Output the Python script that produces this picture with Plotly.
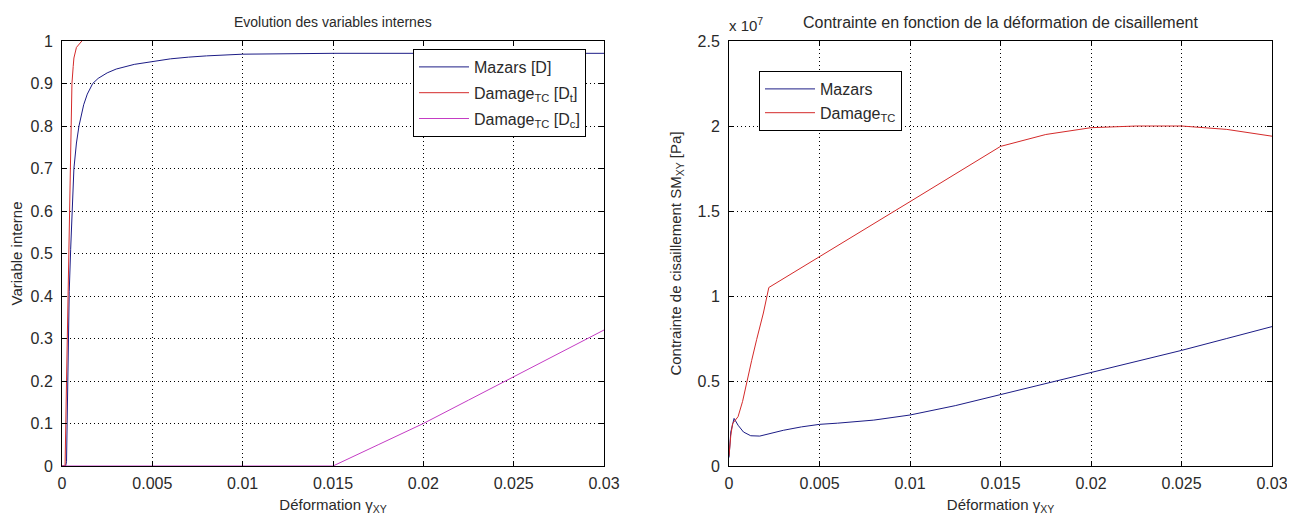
import plotly.graph_objects as go

# ---- left panel: internal variables ----
mazars_d_x = [0, 0.0002, 0.00025, 0.0003, 0.00033, 0.0004, 0.00048, 0.00055, 0.00066, 0.0008,
              0.00094, 0.0012, 0.0014, 0.0017, 0.002, 0.0025, 0.003, 0.004, 0.005, 0.006,
              0.007, 0.008, 0.01, 0.015, 0.02, 0.025, 0.03]
mazars_d_y = [0, 0, 0.01, 0.14, 0.28, 0.41, 0.51, 0.6, 0.7, 0.76,
              0.8, 0.85, 0.875, 0.9, 0.912, 0.925, 0.934, 0.945, 0.952, 0.958,
              0.962, 0.965, 0.969, 0.971, 0.971, 0.971, 0.971]

dt_x = [0, 0.00017, 0.00025, 0.00033, 0.0004, 0.00045, 0.0005, 0.00055, 0.00062, 0.00066,
        0.0008, 0.0011]
dt_y = [0, 0, 0.2, 0.4, 0.5, 0.64, 0.8, 0.9, 0.94, 0.96, 0.985, 1.0]

dc_x = [0, 0.015, 0.0175, 0.02, 0.0225, 0.025, 0.0275, 0.03]
dc_y = [0, 0, 0.05, 0.1, 0.155, 0.21, 0.265, 0.32]

# ---- right panel: shear stress [Pa] ----
mazars_s_x = [0, 0.0001, 0.00028, 0.0005, 0.0008, 0.0012, 0.0017, 0.0022, 0.003, 0.004,
              0.005, 0.006, 0.008, 0.01, 0.0125, 0.015, 0.0175, 0.02, 0.0225, 0.025,
              0.0275, 0.03]
mazars_s_y = [0.05e7, 0.2e7, 0.28e7, 0.24e7, 0.2e7, 0.178e7, 0.176e7, 0.19e7, 0.21e7, 0.23e7,
              0.245e7, 0.252e7, 0.27e7, 0.3e7, 0.355e7, 0.42e7, 0.485e7, 0.55e7, 0.615e7, 0.68e7,
              0.75e7, 0.82e7]

tc_s_x = [0, 0.0001, 0.0002, 0.0005, 0.00075, 0.00098, 0.00125, 0.00153, 0.0019, 0.0022,
          0.005, 0.01, 0.015, 0.0175, 0.02, 0.0225, 0.025, 0.0275, 0.03]
tc_s_y = [0.06e7, 0.18e7, 0.25e7, 0.29e7, 0.38e7, 0.5e7, 0.62e7, 0.745e7, 0.9e7, 1.05e7,
          1.23e7, 1.555e7, 1.88e7, 1.95e7, 1.99e7, 2.0e7, 2.0e7, 1.98e7, 1.94e7]

x_ticks = [0, 0.005, 0.01, 0.015, 0.02, 0.025, 0.03]
x_labels = ["0", "0.005", "0.01", "0.015", "0.02", "0.025", "0.03"]
s_ticks = [0, 0.5e7, 1e7, 1.5e7, 2e7, 2.5e7]
s_labels = ["0", "0.5", "1", "1.5", "2", "2.5"]

BLUE = "#1c1c86"
RED = "#d42a2a"
MAG = "#c43cc4"
FONT = "Liberation Sans, Arial, sans-serif"
TXT = "#2a2a2a"

# the page body adds an 8px margin, so the figure is drawn 8px in from the corner
OFF = 8
W, H = 1295 - OFF, 519 - OFF


def px_x(p):
    return (p - OFF) / W


def px_y(p):
    return 1 - (p - OFF) / H


fig = go.Figure()

fig.add_trace(go.Scatter(x=mazars_d_x, y=mazars_d_y, mode="lines", name="Mazars [D]",
                         line=dict(color=BLUE, width=1), xaxis="x", yaxis="y",
                         legend="legend", legendgroup="a"))
fig.add_trace(go.Scatter(x=dt_x, y=dt_y, mode="lines", name="Damage<sub>TC</sub> [D<sub>t</sub>]",
                         line=dict(color=RED, width=1), xaxis="x", yaxis="y",
                         legend="legend", legendgroup="b"))
fig.add_trace(go.Scatter(x=dc_x, y=dc_y, mode="lines", name="Damage<sub>TC</sub> [D<sub>c</sub>]",
                         line=dict(color=MAG, width=1), xaxis="x", yaxis="y",
                         legend="legend", legendgroup="c"))

fig.add_trace(go.Scatter(x=mazars_s_x, y=mazars_s_y, mode="lines", name="Mazars",
                         line=dict(color=BLUE, width=1), xaxis="x2", yaxis="y2",
                         legend="legend2", legendgroup="d"))
fig.add_trace(go.Scatter(x=tc_s_x, y=tc_s_y, mode="lines", name="Damage<sub>TC</sub>",
                         line=dict(color=RED, width=1), xaxis="x2", yaxis="y2",
                         legend="legend2", legendgroup="e"))

axis_common = dict(
    showline=True, linecolor="black", linewidth=1, mirror="allticks",
    ticks="inside", ticklen=5, tickcolor="black",
    showgrid=True, gridcolor="black", gridwidth=1, griddash="1px,3px",
    zeroline=False, automargin=False,
    tickfont=dict(family=FONT, size=16, color=TXT),
    title_font=dict(family=FONT, size=15, color=TXT),
)

ydom = [px_y(466), px_y(41)]

fig.update_layout(
    width=W, height=H,
    margin=dict(l=0, r=0, t=0, b=0),
    paper_bgcolor="white", plot_bgcolor="white",
    font=dict(family=FONT, size=15, color=TXT),
    xaxis=dict(axis_common, domain=[px_x(62), px_x(604)], range=[0, 0.03],
               tickvals=x_ticks, ticktext=x_labels, ticklabelstandoff=3,
               title=dict(text="Déformation γ<sub>XY</sub>", standoff=8)),
    yaxis=dict(axis_common, domain=ydom, range=[0, 1], dtick=0.1, ticklabelstandoff=5,
               title=dict(text="Variable interne", standoff=6)),
    xaxis2=dict(axis_common, domain=[px_x(729), px_x(1272)], range=[0, 0.03], anchor="y2",
                tickvals=x_ticks, ticktext=x_labels, ticklabelstandoff=3,
                title=dict(text="Déformation γ<sub>XY</sub>", standoff=8)),
    yaxis2=dict(axis_common, domain=ydom, range=[0, 2.5e7], anchor="x2", ticklabelstandoff=5,
                tickvals=s_ticks, ticktext=s_labels,
                title=dict(text="Contrainte de cisaillement SM<sub>XY</sub> [Pa]", standoff=12)),
    legend=dict(x=px_x(413), y=px_y(49), xanchor="left", yanchor="top",
                bgcolor="white", bordercolor="black", borderwidth=1,
                itemwidth=50, tracegroupgap=2,
                font=dict(family=FONT, size=16, color=TXT)),
    legend2=dict(x=px_x(759), y=px_y(71), xanchor="left", yanchor="top",
                 bgcolor="white", bordercolor="black", borderwidth=1,
                 itemwidth=50, tracegroupgap=0,
                 font=dict(family=FONT, size=16, color=TXT)),
    annotations=[
        dict(text="Evolution des variables internes", x=px_x((62 + 604) / 2), y=px_y(22),
             xref="paper", yref="paper", showarrow=False, xanchor="center", yanchor="middle",
             font=dict(family=FONT, size=14, color=TXT)),
        dict(text="Contrainte en fonction de la déformation de cisaillement",
             x=px_x((729 + 1272) / 2), y=px_y(22),
             xref="paper", yref="paper", showarrow=False, xanchor="center", yanchor="middle",
             font=dict(family=FONT, size=16, color=TXT)),
        dict(text="x 10<sup>7</sup>", x=px_x(727), y=px_y(24),
             xref="paper", yref="paper", showarrow=False, xanchor="left", yanchor="middle",
             font=dict(family=FONT, size=15, color=TXT)),
    ],
)

fig.write_html("out.html")
